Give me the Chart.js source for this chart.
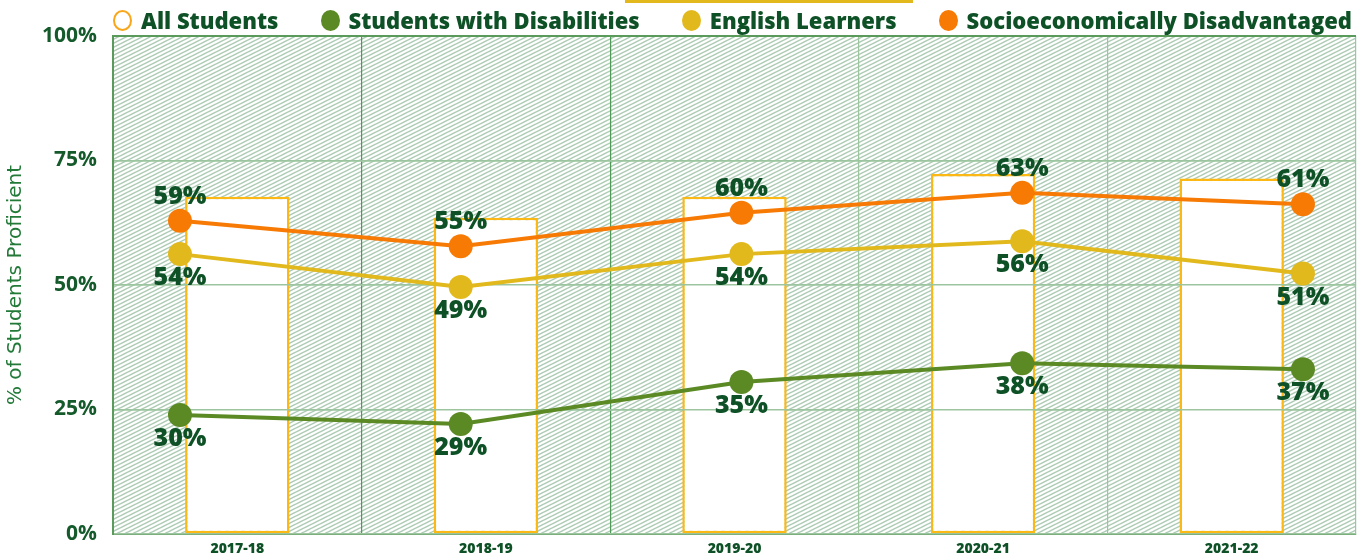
<!DOCTYPE html>
<html lang="en">
<head>
<meta charset="UTF-8">
<title>% of Students Proficient</title>
<script src="https://cdn.jsdelivr.net/npm/chart.js@4"></script>
<style>
  body { margin: 0; background: #fff; }
  #wrap { position: relative; width: 1369px; height: 560px; }
  #strip { position: absolute; left: 625px; top: 0; width: 288px; height: 3px; background: #e3b81c; }
  #legend { position: absolute; left: 113px; right: 17px; top: 0; height: 40px;
            display: flex; justify-content: space-between; align-items: center;
            font-family: "Open Sans", sans-serif; font-weight: 800; font-size: 22px; color: #0e5126; }
  #legend .item { display: flex; align-items: center; white-space: nowrap; }
  #legend .dot { width: 19px; height: 21px; border-radius: 50%; margin-right: 9px; box-sizing: border-box; }
</style>
</head>
<body>
<div id="wrap">
  <canvas id="myChart" width="1369" height="560"></canvas>
  <div id="strip"></div>
  <div id="legend"></div>
</div>
<script>
const years = ['2017-18', '2018-19', '2019-20', '2020-21', '2021-22'];
const allStudents = [67.7, 63.5, 67.7, 72.3, 71.4];
const swd = [23.9, 22.1, 30.5, 34.3, 33.1];
const el = [56.2, 49.6, 56.2, 58.8, 52.3];
const sed = [62.9, 57.8, 64.5, 68.5, 66.2];
const swdLabels = ['30%', '29%', '35%', '38%', '37%'];
const elLabels = ['54%', '49%', '54%', '56%', '51%'];
const sedLabels = ['59%', '55%', '60%', '63%', '61%'];
const yTicks = [0, 25, 50, 75, 100];

const darkGreen = '#0e5126';
// label text per dataset index, and whether it sits above the point
const labelSets = [null, swdLabels, elLabels, sedLabels];
const labelAbove = [false, false, false, true];

const asPoints = arr => arr.map((v, i) => ({ x: i, y: v }));

function hatchTile() {
  const c = document.createElement('canvas');
  c.width = 8; c.height = 4;
  const g = c.getContext('2d');
  g.fillStyle = '#fff';
  g.fillRect(0, 0, 8, 4);
  g.strokeStyle = '#aecbb5';
  g.lineWidth = 1.5;
  for (const k of [-1, 0, 1]) {
    g.beginPath();
    g.moveTo(0, 4 + 4 * k);
    g.lineTo(8, 4 * k);
    g.stroke();
  }
  return c;
}

const hatchBg = {
  id: 'hatchBg',
  beforeDraw(chart) {
    const { ctx, chartArea: a } = chart;
    ctx.save();
    ctx.fillStyle = ctx.createPattern(hatchTile(), 'repeat');
    ctx.fillRect(a.left, a.top, a.width, a.height);
    ctx.restore();
  }
};

// horizontal grid lines show through the white bars
const gridOverBars = {
  id: 'gridOverBars',
  afterDatasetDraw(chart, args) {
    if (args.index === 0) chart.scales.y.drawGrid(chart.chartArea);
  }
};

const pointLabels = {
  id: 'pointLabels',
  afterDatasetsDraw(chart) {
    const ctx = chart.ctx;
    chart.data.datasets.forEach((ds, i) => {
      const texts = labelSets[i];
      if (!texts) return;
      const meta = chart.getDatasetMeta(i);
      ctx.save();
      ctx.font = '800 25px "Open Sans"';
      ctx.fillStyle = darkGreen;
      ctx.textAlign = 'center';
      ctx.textBaseline = 'middle';
      meta.data.forEach((pt, j) => {
        ctx.fillText(texts[j], pt.x, pt.y + (labelAbove[i] ? -24 : 24));
      });
      ctx.restore();
    });
  }
};

const htmlLegend = {
  id: 'htmlLegend',
  afterUpdate(chart) {
    const box = document.getElementById('legend');
    box.innerHTML = '';
    chart.data.datasets.forEach(ds => {
      const item = document.createElement('div');
      item.className = 'item';
      const dot = document.createElement('span');
      dot.className = 'dot';
      if (ds.type === 'bar') {
        dot.style.border = '2.5px solid #f9a61a';
      } else {
        dot.style.background = ds.borderColor;
      }
      const txt = document.createElement('span');
      txt.textContent = ds.label;
      item.appendChild(dot);
      item.appendChild(txt);
      box.appendChild(item);
    });
  }
};

const lineStyle = color => ({
  type: 'line',
  xAxisID: 'x2',
  borderColor: color,
  backgroundColor: color,
  pointBackgroundColor: color,
  borderWidth: 4,
  pointRadius: 12,
  pointBorderWidth: 0,
  tension: 0,
  order: 0
});

new Chart(document.getElementById('myChart'), {
  type: 'bar',
  data: {
    labels: years,
    datasets: [
      {
        type: 'bar',
        label: 'All Students',
        data: allStudents,
        backgroundColor: '#ffffff',
        borderColor: '#fcb814',
        borderWidth: 2.5,
        borderSkipped: false,
        grouped: false,
        barPercentage: 0.42,
        categoryPercentage: 1,
        order: 1
      },
      { ...lineStyle('#5b8a25'), label: 'Students with Disabilities', data: asPoints(swd) },
      { ...lineStyle('#e2b91d'), label: 'English Learners', data: asPoints(el) },
      { ...lineStyle('#f77a05'), label: 'Socioeconomically Disadvantaged', data: asPoints(sed) }
    ]
  },
  options: {
    responsive: false,
    animation: false,
    layout: { padding: { top: 36, right: 13, bottom: 2, left: 0 } },
    plugins: {
      legend: { display: false },
      tooltip: { enabled: false }
    },
    scales: {
      x: {
        afterFit: s => { s.height = 24; },
        grid: {
          offset: true,
          drawTicks: false,
          color: c => (c.index <= 2 || c.index === 5) ? '#4f9a57' : '#9cc59f',
          lineWidth: c => c.index === 5 ? 2 : 1.2
        },
        border: { color: '#5a9a5a', width: 2 },
        ticks: { color: darkGreen, font: { family: 'Open Sans', size: 14, weight: 800 }, padding: 7 }
      },
      x2: { type: 'linear', display: false, offset: false, min: -0.2386, max: 4.189 },
      y: {
        min: 0,
        max: 100,
        afterBuildTicks: s => { s.ticks = yTicks.map(v => ({ value: v })); },
        afterFit: s => { s.width = 113; },
        grid: {
          drawTicks: true,
          tickLength: 14,
          tickColor: 'rgba(0,0,0,0)',
          color: c => (c.tick.value === 100) ? '#5a9a5a' : '#9cc59f',
          lineWidth: c => (c.tick.value === 100) ? 2 : 1.5
        },
        border: { color: '#5a9a5a', width: 2 },
        ticks: {
          color: '#155a2b',
          font: { family: 'Open Sans', size: 21, weight: 700 },
          padding: 2,
          callback: v => v + '%'
        },
        title: {
          display: true,
          text: '% of Students Proficient',
          color: '#237a38',
          font: { family: 'DejaVu Sans', size: 20 },
          padding: { top: 4, bottom: 0 }
        }
      }
    }
  },
  plugins: [hatchBg, gridOverBars, pointLabels, htmlLegend]
});
</script>
</body>
</html>
